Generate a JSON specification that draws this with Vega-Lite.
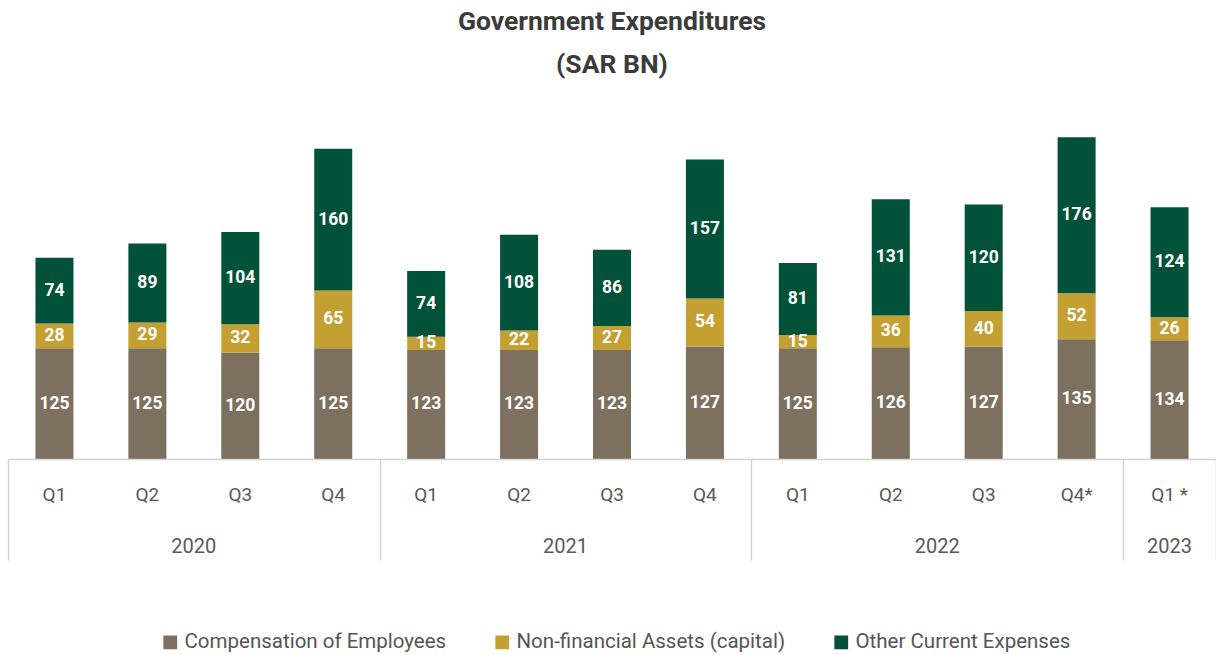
{
  "$schema": "https://vega.github.io/schema/vega-lite/v6.json",
  "padding": {"left": 8, "right": 0, "top": 8, "bottom": 0},
  "background": "white",
  "title": {
    "text": ["Government Expenditures", "(SAR BN)"],
    "fontSize": 26.5,
    "font": "Roboto",
    "fontWeight": "bold",
    "color": "#3b3b3b",
    "lineHeight": 43,
    "anchor": "middle",
    "offset": 22
  },
  "config": {
    "view": {"stroke": null},
    "font": "Roboto"
  },
  "datasets": {
    "exp": [
      {"year": "2020", "quarter": "Q1", "key": "2020 Q1", "category": "Compensation of Employees", "value": 125},
      {"year": "2020", "quarter": "Q1", "key": "2020 Q1", "category": "Non-financial Assets (capital)", "value": 28},
      {"year": "2020", "quarter": "Q1", "key": "2020 Q1", "category": "Other Current Expenses", "value": 74},
      {"year": "2020", "quarter": "Q2", "key": "2020 Q2", "category": "Compensation of Employees", "value": 125},
      {"year": "2020", "quarter": "Q2", "key": "2020 Q2", "category": "Non-financial Assets (capital)", "value": 29},
      {"year": "2020", "quarter": "Q2", "key": "2020 Q2", "category": "Other Current Expenses", "value": 89},
      {"year": "2020", "quarter": "Q3", "key": "2020 Q3", "category": "Compensation of Employees", "value": 120},
      {"year": "2020", "quarter": "Q3", "key": "2020 Q3", "category": "Non-financial Assets (capital)", "value": 32},
      {"year": "2020", "quarter": "Q3", "key": "2020 Q3", "category": "Other Current Expenses", "value": 104},
      {"year": "2020", "quarter": "Q4", "key": "2020 Q4", "category": "Compensation of Employees", "value": 125},
      {"year": "2020", "quarter": "Q4", "key": "2020 Q4", "category": "Non-financial Assets (capital)", "value": 65},
      {"year": "2020", "quarter": "Q4", "key": "2020 Q4", "category": "Other Current Expenses", "value": 160},
      {"year": "2021", "quarter": "Q1", "key": "2021 Q1", "category": "Compensation of Employees", "value": 123},
      {"year": "2021", "quarter": "Q1", "key": "2021 Q1", "category": "Non-financial Assets (capital)", "value": 15},
      {"year": "2021", "quarter": "Q1", "key": "2021 Q1", "category": "Other Current Expenses", "value": 74},
      {"year": "2021", "quarter": "Q2", "key": "2021 Q2", "category": "Compensation of Employees", "value": 123},
      {"year": "2021", "quarter": "Q2", "key": "2021 Q2", "category": "Non-financial Assets (capital)", "value": 22},
      {"year": "2021", "quarter": "Q2", "key": "2021 Q2", "category": "Other Current Expenses", "value": 108},
      {"year": "2021", "quarter": "Q3", "key": "2021 Q3", "category": "Compensation of Employees", "value": 123},
      {"year": "2021", "quarter": "Q3", "key": "2021 Q3", "category": "Non-financial Assets (capital)", "value": 27},
      {"year": "2021", "quarter": "Q3", "key": "2021 Q3", "category": "Other Current Expenses", "value": 86},
      {"year": "2021", "quarter": "Q4", "key": "2021 Q4", "category": "Compensation of Employees", "value": 127},
      {"year": "2021", "quarter": "Q4", "key": "2021 Q4", "category": "Non-financial Assets (capital)", "value": 54},
      {"year": "2021", "quarter": "Q4", "key": "2021 Q4", "category": "Other Current Expenses", "value": 157},
      {"year": "2022", "quarter": "Q1", "key": "2022 Q1", "category": "Compensation of Employees", "value": 125},
      {"year": "2022", "quarter": "Q1", "key": "2022 Q1", "category": "Non-financial Assets (capital)", "value": 15},
      {"year": "2022", "quarter": "Q1", "key": "2022 Q1", "category": "Other Current Expenses", "value": 81},
      {"year": "2022", "quarter": "Q2", "key": "2022 Q2", "category": "Compensation of Employees", "value": 126},
      {"year": "2022", "quarter": "Q2", "key": "2022 Q2", "category": "Non-financial Assets (capital)", "value": 36},
      {"year": "2022", "quarter": "Q2", "key": "2022 Q2", "category": "Other Current Expenses", "value": 131},
      {"year": "2022", "quarter": "Q3", "key": "2022 Q3", "category": "Compensation of Employees", "value": 127},
      {"year": "2022", "quarter": "Q3", "key": "2022 Q3", "category": "Non-financial Assets (capital)", "value": 40},
      {"year": "2022", "quarter": "Q3", "key": "2022 Q3", "category": "Other Current Expenses", "value": 120},
      {"year": "2022", "quarter": "Q4*", "key": "2022 Q4*", "category": "Compensation of Employees", "value": 135},
      {"year": "2022", "quarter": "Q4*", "key": "2022 Q4*", "category": "Non-financial Assets (capital)", "value": 52},
      {"year": "2022", "quarter": "Q4*", "key": "2022 Q4*", "category": "Other Current Expenses", "value": 176},
      {"year": "2023", "quarter": "Q1 *", "key": "2023 Q1*", "category": "Compensation of Employees", "value": 134},
      {"year": "2023", "quarter": "Q1 *", "key": "2023 Q1*", "category": "Non-financial Assets (capital)", "value": 26},
      {"year": "2023", "quarter": "Q1 *", "key": "2023 Q1*", "category": "Other Current Expenses", "value": 124}
    ]
  },
  "data": {"name": "exp"},
  "spacing": 0,
  "vconcat": [
    {
      "width": 1208,
      "height": 359,
      "encoding": {
        "x": {
          "field": "key",
          "type": "ordinal",
          "sort": "ascending",
          "scale": {"paddingInner": 0.591, "paddingOuter": 0.2955},
          "axis": null
        }
      },
      "layer": [
        {
          "mark": {"type": "bar"},
          "encoding": {
            "y": {
              "field": "value",
              "type": "quantitative",
              "stack": "zero",
              "scale": {"domain": [0, 405], "nice": false},
              "axis": null
            },
            "color": {
              "field": "category",
              "type": "nominal",
              "scale": {
                "domain": ["Compensation of Employees", "Non-financial Assets (capital)", "Other Current Expenses"],
                "range": ["#7d705f", "#c4a032", "#02523a"]
              },
              "legend": {
                "orient": "none",
                "legendX": 152,
                "legendY": 532,
                "direction": "horizontal",
                "title": null,
                "symbolType": "square",
                "symbolSize": 190,
                "symbolStrokeWidth": 0,
                "labelFontSize": 20.5,
                "labelColor": "#555555",
                "labelFont": "Roboto",
                "labelLimit": 400,
                "columnPadding": 45
              }
            },
            "order": {"field": "category", "sort": "ascending"}
          }
        },
        {
          "mark": {"type": "text", "color": "white", "fontSize": 17.5, "fontWeight": "bold", "font": "Roboto", "baseline": "middle", "align": "center"},
          "encoding": {
            "y": {
              "field": "value",
              "type": "quantitative",
              "stack": "zero",
              "bandPosition": 0.5
            },
            "text": {"field": "value", "type": "quantitative"},
            "detail": {"field": "category"},
            "order": {"field": "category", "sort": "ascending"}
          }
        }
      ]
    },
    {
      "width": 1208,
      "height": 101,
      "transform": [
        {"filter": "datum.category === 'Compensation of Employees'"},
        {"window": [{"op": "row_number", "as": "idx"}], "sort": [{"field": "key", "order": "ascending"}]}
      ],
      "layer": [
        {
          "mark": {"type": "text", "fontSize": 19, "color": "#595959", "font": "Roboto", "baseline": "middle", "dy": -15},
          "encoding": {
            "x": {
              "field": "idx",
              "type": "quantitative",
              "scale": {"domain": [0.5, 13.5], "nice": false, "zero": false},
              "axis": {
                "orient": "top",
                "values": [0.5, 4.5, 8.5, 12.5, 13.5],
                "grid": true,
                "gridColor": "#d4d4d4",
                "gridWidth": 1.5,
                "domain": true,
                "domainColor": "#d4d4d4",
                "domainWidth": 1.5,
                "ticks": false,
                "labels": false,
                "title": null
              }
            },
            "text": {"field": "quarter"}
          }
        },
        {
          "transform": [
            {"aggregate": [{"op": "mean", "field": "idx", "as": "center"}], "groupby": ["year"]}
          ],
          "mark": {"type": "text", "fontSize": 20, "color": "#595959", "font": "Roboto", "baseline": "middle", "dy": 37},
          "encoding": {
            "x": {"field": "center", "type": "quantitative"},
            "text": {"field": "year"}
          }
        }
      ]
    }
  ]
}
